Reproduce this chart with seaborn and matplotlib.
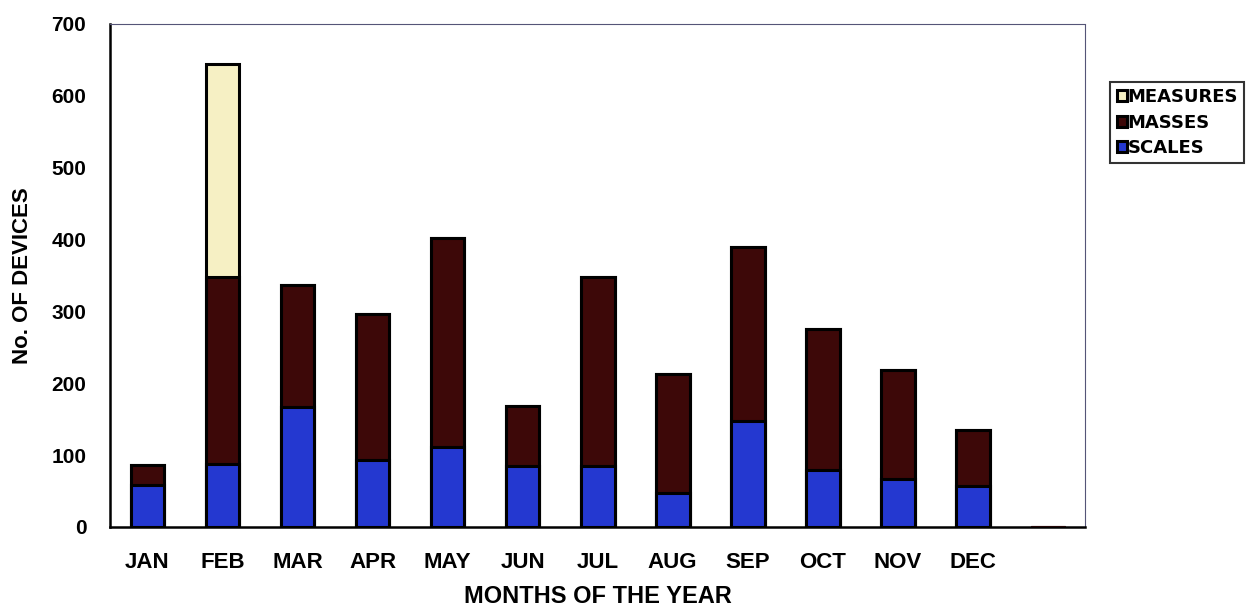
import matplotlib
matplotlib.use("Agg")
import matplotlib.pyplot as plt
import numpy as np
import pandas as pd
import seaborn as sns

# values (devices per month, 2008)
months = ["JAN", "FEB", "MAR", "APR", "MAY", "JUN", "JUL", "AUG", "SEP", "OCT", "NOV", "DEC", ""]
scales = [58, 88, 167, 93, 111, 85, 85, 47, 148, 79, 67, 57, 0]
masses = [28, 260, 170, 203, 291, 84, 263, 166, 241, 197, 151, 78, 0]
measures = [0, 296, 0, 0, 0, 0, 0, 0, 0, 0, 0, 0, 0]

series_names = ["MEASURES", "MASSES", "SCALES"]
series_colors = {"MEASURES": "#f6f0c4", "MASSES": "#3d0808", "SCALES": "#2438d0"}

sns.set_style("white")
plt.rcParams["font.family"] = ["Liberation Sans", "DejaVu Sans"]
plt.rcParams["font.weight"] = "bold"
plt.rcParams["text.color"] = "black"
plt.rcParams["axes.labelcolor"] = "black"
plt.rcParams["xtick.color"] = "black"
plt.rcParams["ytick.color"] = "black"

df = pd.DataFrame({"month": months, "SCALES": scales, "MASSES": masses, "MEASURES": measures})
# cumulative heights, drawn from the tallest layer down
df["cum_SCALES"] = df["SCALES"]
df["cum_MASSES"] = df["cum_SCALES"] + df["MASSES"]
df["cum_MEASURES"] = df["cum_MASSES"] + df["MEASURES"]

fig = plt.figure(figsize=(12.49, 6.11), dpi=100)
ax = fig.add_axes([0.088, 0.1375, 0.781, 0.8235])

for name in series_names:
    sns.barplot(data=df, x="month", y="cum_" + name, order=months, color=series_colors[name],
                width=0.45, edgecolor="black", linewidth=2.2, saturation=1, ax=ax, label=name)

# the empty 13th slot shows only a reddish line on the axis
ax.patches[len(months) * 3 - 1].set_edgecolor("#8a1a1a")

ax.set_xlim(-0.5, len(months) - 0.5)
ax.set_ylim(0, 700)
ax.set_yticks(np.arange(0, 701, 100))
ax.tick_params(axis="y", which="major", direction="inout", length=12, width=1.2, labelsize=15, pad=11)
ax.set_xticks(range(len(months)))
ax.set_xticklabels(months, fontsize=16, fontweight="bold")
ax.tick_params(axis="x", which="major", length=0, pad=18)
ax.set_xticks(np.arange(-0.5, len(months)), minor=True)
ax.tick_params(axis="x", which="minor", direction="out", length=6, width=1.2)
for lab in ax.get_yticklabels():
    lab.set_fontweight("bold")

ax.set_xlabel("MONTHS OF THE YEAR", fontsize=17, fontweight="bold", labelpad=9)
ax.set_ylabel("No. OF DEVICES", fontsize=16, fontweight="bold", labelpad=13)

for side in ["left", "bottom"]:
    ax.spines[side].set_color("black")
    ax.spines[side].set_linewidth(1.8)
for side in ["top", "right"]:
    ax.spines[side].set_color("#555577")
    ax.spines[side].set_linewidth(0.8)
    ax.spines[side].set_linestyle((0, (2, 1)))

handles, labels = ax.get_legend_handles_labels()
leg = ax.legend(handles, labels, loc="upper left", bbox_to_anchor=(1.0256, 0.885), frameon=True,
                fancybox=False, edgecolor="black", prop={"family": "DejaVu Sans", "weight": "bold", "size": 13},
                handlelength=0.55, handleheight=0.55, handletextpad=0.05, labelspacing=0.42,
                borderpad=0.35, borderaxespad=0)
leg.get_frame().set_linewidth(1.5)

# title sits mostly off the top edge of the picture
fig.text(0.49, 1 - 4 / 611, "2008", ha="center", va="bottom", fontsize=14, fontweight="bold")

fig.savefig("out.png", dpi=100)
